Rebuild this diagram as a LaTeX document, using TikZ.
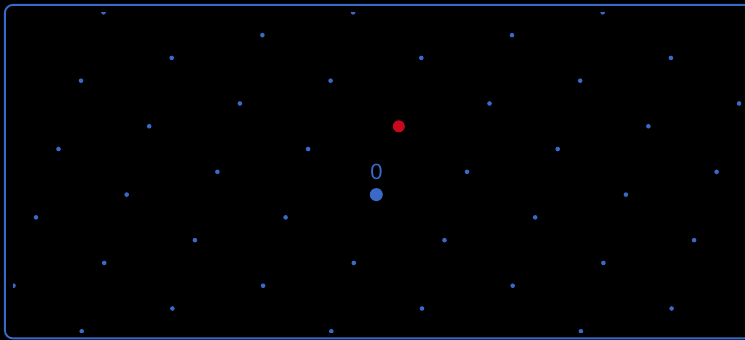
\documentclass[tikz,border=0pt]{standalone}
\usepackage{fontspec}
\setmainfont{Liberation Sans}
\definecolor{latblue}{RGB}{58,106,200}
\definecolor{latred}{RGB}{200,8,30}
\tikzset{
  dotsmall/.style={fill=latblue,draw=none,circle,inner sep=0pt,minimum size=4.6pt},
  dotbig/.style={fill=latblue,draw=none,circle,inner sep=0pt,minimum size=13pt},
  dotred/.style={fill=latred,draw=none,circle,inner sep=0pt,minimum size=12pt},
  frame/.style={draw=latblue,line width=1.9pt,rounded corners=8pt}
}
\begin{document}
\begin{tikzpicture}[x=1pt,y=-1pt]
\fill[black] (0,0) rectangle (745,340);
\useasboundingbox (0,0) rectangle (745,340);
\coordinate (O) at (376.3,194.6);
\begin{scope}
\clip (13,12) rectangle (741,332);
\foreach \k in {-9,...,8}{
  \foreach \m in {-6,...,6}{
    \pgfmathsetmacro{\px}{376.3+\k*90.7+\m*249.6}
    \pgfmathsetmacro{\py}{194.6-\k*22.78}
    \ifdim\px pt<13pt\relax\else
      \node[dotsmall] (p\k\m) at (\px,\py) {};
    \fi
  }
}
\end{scope}
\node[dotbig] (origin) at (O) {};
\node[dotred] (target) at (398.8,126.3) {};
\node[text=latblue,font=\fontsize{22}{22}\selectfont,inner sep=0pt,anchor=base] (lbl) at (376.5,179.5) {0};
\draw[frame] (4.9,4.9) rectangle (752,338.4);
\end{tikzpicture}
\end{document}
